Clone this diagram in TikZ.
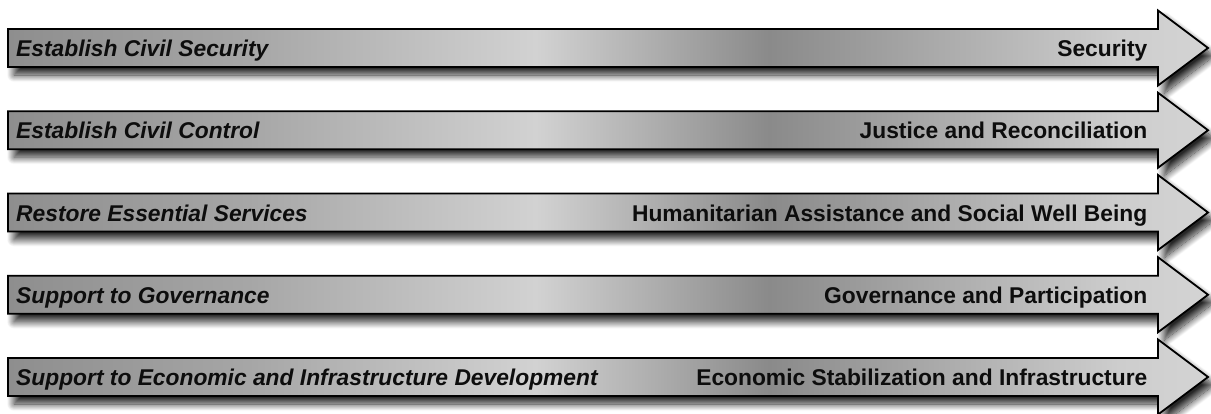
\documentclass[tikz,border=0pt]{standalone}
\usepackage{fontspec}
\setmainfont{Liberation Sans}
\usetikzlibrary{shadows.blur}
\definecolor{g0}{HTML}{8E8E8E}
\definecolor{g1}{HTML}{A6A6A6}
\definecolor{g2}{HTML}{D2D2D2}
\definecolor{g3}{HTML}{8A8A8A}
\definecolor{g4}{HTML}{CDCDCD}
\definecolor{g5}{HTML}{D4D4D4}
\pgfdeclarehorizontalshading{arrowshade}{100bp}{color(0bp)=(g0); color(25bp)=(g0); color(35bp)=(g1); color(47bp)=(g2); color(56.7bp)=(g3); color(71.3bp)=(g4); color(75bp)=(g5); color(100bp)=(g5)}
\tikzset{
  bigarrow/.style={draw=black, line width=1.8pt, line join=miter, shade, shading=arrowshade,
    blur shadow={shadow xshift=6pt, shadow yshift=-8pt, shadow opacity=85, shadow blur radius=7pt, shadow blur steps=14}},
  lefttext/.style={anchor=base west, inner sep=0pt, font=\fontsize{22.8}{26}\selectfont\bfseries\itshape, text=black!95},
  righttext/.style={anchor=base east, inner sep=0pt, font=\fontsize{22.8}{26}\selectfont\bfseries, text=black!95}
}
\newcommand{\myarrow}[4]{%
  \path[bigarrow] (8,#1-19) -- (1158,#1-19) -- (1158,#1-37.5) -- (1208,#1) -- (1158,#1+37.5) -- (1158,#1+19) -- (8,#1+19) -- cycle;
  \node[lefttext] (#4l) at (16,#1+8.5) {#2};
  \node[righttext] (#4r) at (1147.5,#1+8.5) {#3};
}
\begin{document}
\begin{tikzpicture}[x=1pt,y=-1pt]
\useasboundingbox (0,0) rectangle (1211,413);
\myarrow{48}{Establish Civil Security}{Security}{a}
\myarrow{130.25}{Establish Civil Control}{Justice and Reconciliation}{b}
\myarrow{212.5}{Restore Essential Services}{Humanitarian Assistance and Social Well Being}{c}
\myarrow{294.75}{Support to Governance}{Governance and Participation}{d}
\myarrow{377}{Support to Economic and Infrastructure Development}{Economic Stabilization and Infrastructure}{e}
\end{tikzpicture}
\end{document}
